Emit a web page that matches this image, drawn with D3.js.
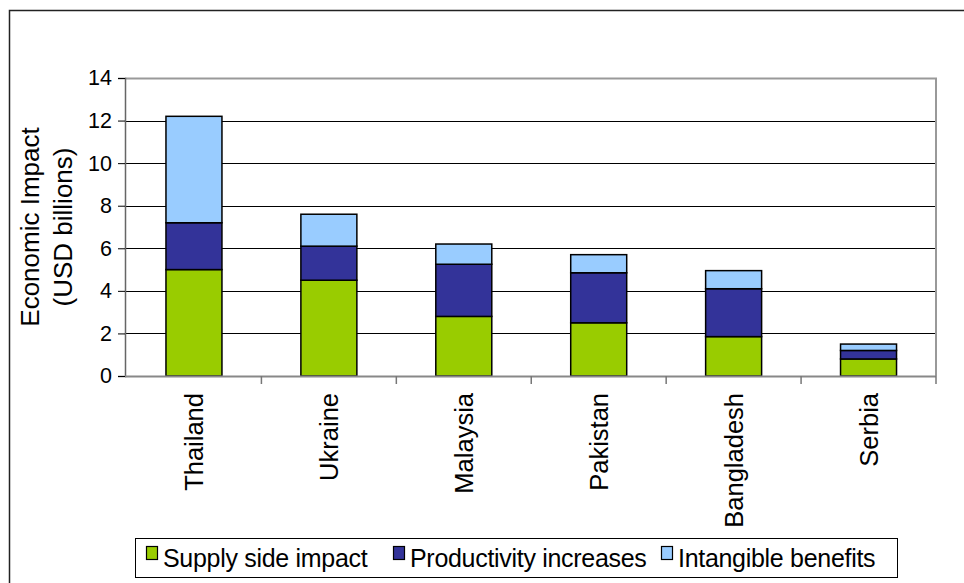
<!DOCTYPE html>
<html>
<head>
<meta charset="utf-8">
<script src="https://cdn.jsdelivr.net/npm/d3@7/dist/d3.min.js"></script>
<style>
  html, body { margin: 0; padding: 0; background: #fff; }
  svg { display: block; font-family: "Liberation Sans", Arial, sans-serif; }
</style>
</head>
<body>
<svg id="chart" width="964" height="583"></svg>
<script>
const categories = ["Thailand", "Ukraine", "Malaysia", "Pakistan", "Bangladesh", "Serbia"];
const seriesNames = ["Supply side impact", "Productivity increases", "Intangible benefits"];
const supplySide = [5.0, 4.5, 2.8, 2.5, 1.85, 0.8];
const productivity = [2.2, 1.6, 2.45, 2.35, 2.25, 0.4];
const intangible = [5.0, 1.5, 0.95, 0.85, 0.85, 0.3];
const yTicks = [0, 2, 4, 6, 8, 10, 12, 14];
const colors = ["#99CC00", "#333399", "#99CCFF"];

const svg = d3.select("#chart");
const margin = { left: 125, right: 936, top: 78, bottom: 376 };

// outer frame (only left & top visible)
svg.append("path")
  .attr("d", "M9.5,600 L9.5,10.5 L970,10.5")
  .attr("fill", "none").attr("stroke", "#222").attr("stroke-width", 1.5);

const x = d3.scaleBand().domain(categories)
  .range([margin.left + 1.5, margin.right]).paddingInner(0.585).paddingOuter(0.2925);
const xBand = d3.scaleBand().domain(categories).range([margin.left + 1.5, margin.right]);
const y = d3.scaleLinear().domain([0, 14]).range([margin.bottom, margin.top]);

// gridlines
svg.append("g").selectAll("line").data(yTicks.filter(t => t > 0 && t < 14)).join("line")
  .attr("x1", margin.left).attr("x2", margin.right)
  .attr("y1", d => Math.round(y(d)) + 0.5).attr("y2", d => Math.round(y(d)) + 0.5)
  .attr("stroke", "#000").attr("stroke-width", 1);

// plot border top/right (gray)
svg.append("path")
  .attr("d", `M${margin.left},${Math.round(y(14)) + 0.5} L${margin.right},${Math.round(y(14)) + 0.5} L${margin.right},${margin.bottom}`)
  .attr("fill", "none").attr("stroke", "#999").attr("stroke-width", 2);

// stacked data
const table = categories.map((c, i) => ({ cat: c, s0: supplySide[i], s1: productivity[i], s2: intangible[i] }));
const stack = d3.stack().keys(["s0", "s1", "s2"])(table);

svg.append("g").selectAll("g").data(stack).join("g")
  .attr("fill", (d, i) => colors[i])
  .selectAll("rect").data(d => d).join("rect")
  .attr("x", d => x(d.data.cat))
  .attr("width", x.bandwidth())
  .attr("y", d => y(d[1]))
  .attr("height", d => y(d[0]) - y(d[1]))
  .attr("stroke", "#000").attr("stroke-width", 1.5);

// y axis
const yAxis = d3.axisLeft(y).tickValues(yTicks).tickSize(7).tickPadding(6).tickFormat(d3.format("d"));
const gy = svg.append("g").attr("transform", `translate(${margin.left},0)`).call(yAxis);
gy.select(".domain").attr("stroke", "#666").attr("stroke-width", 1.5);
gy.selectAll(".tick line").attr("stroke", "#000");
gy.selectAll(".tick text").attr("font-size", 21.5).attr("fill", "#000")
  .attr("font-family", "Liberation Sans, Arial, sans-serif");

// x axis baseline + boundary ticks
svg.append("line")
  .attr("x1", margin.left).attr("x2", margin.right)
  .attr("y1", margin.bottom + 0.5).attr("y2", margin.bottom + 0.5)
  .attr("stroke", "#888").attr("stroke-width", 2);
const bounds = categories.map(c => xBand(c) + xBand.bandwidth());
svg.append("g").selectAll("line").data(bounds).join("line")
  .attr("x1", d => d).attr("x2", d => d)
  .attr("y1", margin.bottom).attr("y2", margin.bottom + 8)
  .attr("stroke", "#777").attr("stroke-width", 1.5);

// x labels rotated
svg.append("g").selectAll("text").data(categories).join("text")
  .attr("transform", d => `translate(${xBand(d) + xBand.bandwidth() / 2 + 9},393) rotate(-90)`)
  .attr("text-anchor", "end")
  .attr("font-size", 25.5)
  .attr("fill", "#000")
  .text(d => d);

// y title
const yt = svg.append("text")
  .attr("transform", `translate(39,227) rotate(-90)`)
  .attr("text-anchor", "middle").attr("font-size", 26).attr("fill", "#000");
yt.append("tspan").attr("x", 0).attr("dy", 0).text("Economic Impact");
yt.append("tspan").attr("x", 0).attr("dy", 33).text("(USD billions)");

// legend
const lg = svg.append("g");
lg.append("rect").attr("x", 135.5).attr("y", 538.5).attr("width", 762).attr("height", 39)
  .attr("fill", "#fff").attr("stroke", "#000").attr("stroke-width", 1);
const legendX = [146, 393, 661];
seriesNames.forEach((n, i) => {
  lg.append("rect").attr("x", legendX[i] + 0.5).attr("y", 546.5).attr("width", 11).attr("height", 13)
    .attr("fill", colors[i]).attr("stroke", "#000").attr("stroke-width", 1.2);
  lg.append("text").attr("x", legendX[i] + 17).attr("y", 567)
    .attr("font-size", 25).attr("letter-spacing", -0.3).attr("fill", "#000").text(n);
});
</script>
</body>
</html>
